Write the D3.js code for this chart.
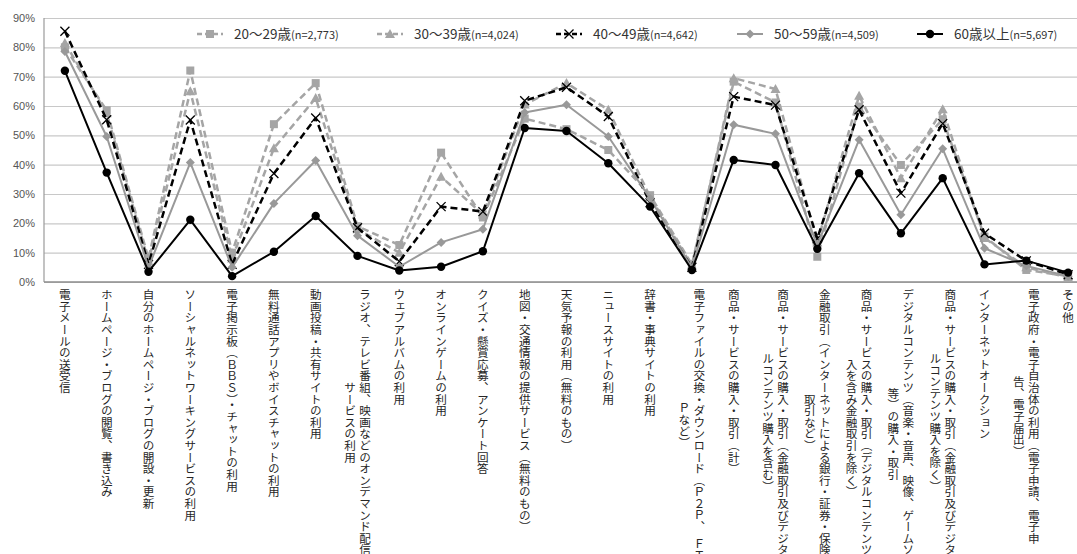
<!DOCTYPE html>
<html>
<head>
<meta charset="utf-8">
<script src="https://cdn.jsdelivr.net/npm/d3@7"></script>
<style>
  body { margin: 0; background: #fff; }
  svg { display: block; font-family: "Noto Sans CJK JP", "Noto Sans", sans-serif; }
  .vlabel { writing-mode: vertical-rl; }
</style>
</head>
<body>
<svg id="chart" width="1077" height="554"></svg>
<script>
// categories (each entry = lines of the wrapped label)
var categories = [
  ["電子メールの送受信"],
  ["ホームページ・ブログの閲覧、書き込み"],
  ["自分のホームページ・ブログの開設・更新"],
  ["ソーシャルネットワーキングサービスの利用"],
  ["電子掲示板（ＢＢＳ）・チャットの利用"],
  ["無料通話アプリやボイスチャットの利用"],
  ["動画投稿・共有サイトの利用"],
  ["ラジオ、テレビ番組、映画などのオンデマンド配信", "サービスの利用"],
  ["ウェブアルバムの利用"],
  ["オンラインゲームの利用"],
  ["クイズ・懸賞応募、アンケート回答"],
  ["地図・交通情報の提供サービス（無料のもの）"],
  ["天気予報の利用（無料のもの）"],
  ["ニュースサイトの利用"],
  ["辞書・事典サイトの利用"],
  ["電子ファイルの交換・ダウンロード（Ｐ２Ｐ、　ＦＴ", "Ｐなど）"],
  ["商品・サービスの購入・取引（計）"],
  ["商品・サービスの購入・取引（金融取引及びデジタ", "ルコンテンツ購入を含む）"],
  ["金融取引（インターネットによる銀行・証券・保険", "取引など）"],
  ["商品・サービスの購入・取引（デジタルコンテンツ購", "入を含み金融取引を除く）"],
  ["デジタルコンテンツ（音楽・音声、映像、ゲームソフト", "等）の購入・取引"],
  ["商品・サービスの購入・取引（金融取引及びデジタ", "ルコンテンツ購入を除く）"],
  ["インターネットオークション"],
  ["電子政府・電子自治体の利用（電子申請、電子申", "告、電子届出）"],
  ["その他"]
];

var seriesNames = ["20～29歳", "30～39歳", "40～49歳", "50～59歳", "60歳以上"];
var seriesN = ["(n=2,773)", "(n=4,024)", "(n=4,642)", "(n=4,509)", "(n=5,697)"];

var age20s = [80.0, 58.5, 8.0, 72.1, 10.0, 53.8, 67.8, 19.0, 12.6, 44.1, 22.0, 55.7, 52.1, 45.0, 29.6, 6.0,
              68.3, 61.2, 8.6, 59.8, 39.9, 55.5, 15.5, 4.1, 2.0];
var age30s = [81.5, 57.5, 7.0, 65.0, 8.0, 45.6, 62.7, 18.0, 10.0, 35.9, 23.0, 60.5, 67.8, 58.7, 29.0, 5.5,
              69.5, 65.8, 13.5, 63.5, 35.4, 58.9, 15.0, 5.0, 1.5];
var age40s = [85.5, 55.3, 6.0, 55.2, 6.0, 37.0, 55.9, 18.5, 7.0, 25.7, 24.0, 61.8, 66.4, 56.4, 27.0, 5.0,
              63.2, 60.3, 14.8, 58.7, 30.3, 54.0, 16.6, 7.2, 2.5];
var age50s = [78.6, 49.6, 5.0, 40.7, 5.0, 26.8, 41.4, 15.8, 5.2, 13.5, 18.0, 57.8, 60.4, 49.6, 28.5, 4.8,
              53.6, 50.5, 12.5, 48.5, 22.9, 45.4, 11.5, 5.5, 2.0];
var age60s = [72.0, 37.3, 3.5, 21.2, 2.0, 10.3, 22.5, 8.9, 3.9, 5.2, 10.5, 52.5, 51.5, 40.5, 25.7, 4.1,
              41.6, 39.9, 11.3, 37.1, 16.6, 35.4, 6.0, 7.3, 3.2];

var yTicks = [0, 10, 20, 30, 40, 50, 60, 70, 80, 90];

var seriesData = [age20s, age30s, age40s, age50s, age60s];

// styles per series
var styles = [
  { color: "#a5a5a5", dash: "7,4", width: 2.5, marker: "square" },
  { color: "#a5a5a5", dash: "7,4", width: 2.5, marker: "triangle" },
  { color: "#000000", dash: "7,4", width: 2.5, marker: "cross" },
  { color: "#999999", dash: null,  width: 2,   marker: "diamond" },
  { color: "#000000", dash: null,  width: 2,   marker: "circle" }
];
var legendX = [197, 377, 556, 737, 917];

var svg = d3.select("#chart");
var margin = { top: 18, left: 44 };
var plotW = 1045, plotH = 264;

var xScale = d3.scaleBand()
  .domain(d3.range(categories.length))
  .range([margin.left, margin.left + plotW]);

var yScale = d3.scaleLinear()
  .domain([0, 90])
  .range([margin.top + plotH, margin.top]);

// gridlines + y axis
var yAxis = d3.axisLeft(yScale)
  .tickValues(yTicks)
  .tickFormat(function(d) { return d + "%"; })
  .tickSize(-plotW)
  .tickPadding(9);

var gy = svg.append("g")
  .attr("transform", "translate(" + margin.left + ",0)")
  .call(yAxis);
gy.select(".domain").remove();
gy.selectAll(".tick line").attr("stroke", "#c8c8c8").attr("stroke-width", 1.2);
gy.selectAll(".tick text")
  .attr("fill", "#555")
  .style("font-size", "11px")
  .style("font-family", "'Liberation Sans', Arial, sans-serif");

// left and bottom axis lines
svg.append("line")
  .attr("x1", margin.left).attr("x2", margin.left)
  .attr("y1", yScale(90)).attr("y2", yScale(0))
  .attr("stroke", "#9a9a9a").attr("stroke-width", 1.2);
svg.append("line")
  .attr("x1", margin.left).attr("x2", margin.left + plotW)
  .attr("y1", yScale(0)).attr("y2", yScale(0))
  .attr("stroke", "#8c8c8c").attr("stroke-width", 1.4);

// x labels (vertical text)
var cx = function(i) { return xScale(i) + xScale.bandwidth() / 2; };
var labelTop = yScale(0) + 7;
var colGap = 15;

var labelG = svg.append("g");
categories.forEach(function(lines, i) {
  var n = lines.length;
  var mid = labelTop;
  lines.forEach(function(line, k) {
    var x = cx(i) + (n - 1) * colGap / 2 - k * colGap;
    var t = labelG.append("text")
      .attr("class", "vlabel")
      .attr("x", x)
      .attr("y", labelTop)
      .attr("fill", "#262626")
      .style("font-size", "11.6px")
      .text(line);
    if (k === 0) {
      mid = labelTop + t.node().getComputedTextLength() / 2;
    } else {
      t.attr("y", mid).attr("text-anchor", "middle");
    }
  });
});

// marker drawing
function drawMarker(g, type, x, y, st) {
  if (type === "square") {
    g.append("rect").attr("x", x - 4).attr("y", y - 4).attr("width", 8).attr("height", 8)
      .attr("fill", st.color);
  } else if (type === "triangle") {
    g.append("path").attr("d", "M" + x + "," + (y - 5) + "L" + (x + 5) + "," + (y + 4) + "L" + (x - 5) + "," + (y + 4) + "Z")
      .attr("fill", st.color);
  } else if (type === "cross") {
    g.append("path").attr("d", "M" + (x - 4.5) + "," + (y - 4.5) + "L" + (x + 4.5) + "," + (y + 4.5) +
      "M" + (x + 4.5) + "," + (y - 4.5) + "L" + (x - 4.5) + "," + (y + 4.5))
      .attr("stroke", st.color).attr("stroke-width", 1.3).attr("fill", "none");
  } else if (type === "diamond") {
    g.append("path").attr("d", "M" + x + "," + (y - 4.5) + "L" + (x + 4.5) + "," + y + "L" + x + "," + (y + 4.5) + "L" + (x - 4.5) + "," + y + "Z")
      .attr("fill", st.color);
  } else if (type === "circle") {
    g.append("circle").attr("cx", x).attr("cy", y).attr("r", 4.2).attr("fill", st.color);
  }
}

var line = d3.line()
  .x(function(d, i) { return cx(i); })
  .y(function(d) { return yScale(d); });

seriesData.forEach(function(vals, s) {
  var st = styles[s];
  var g = svg.append("g");
  g.append("path")
    .datum(vals)
    .attr("d", line)
    .attr("fill", "none")
    .attr("stroke", st.color)
    .attr("stroke-width", st.width)
    .attr("stroke-dasharray", st.dash)
    .attr("stroke-linejoin", "round");
  vals.forEach(function(v, i) {
    drawMarker(g, st.marker, cx(i), yScale(v), st);
  });
});

// legend
var legY = 34;
var lg = svg.append("g");
seriesNames.forEach(function(name, s) {
  var st = styles[s];
  var x0 = legendX[s];
  lg.append("line")
    .attr("x1", x0).attr("x2", x0 + 26)
    .attr("y1", legY).attr("y2", legY)
    .attr("stroke", st.color).attr("stroke-width", st.width)
    .attr("stroke-dasharray", st.dash ? "5,3" : null);
  drawMarker(lg, st.marker, x0 + 13, legY, st);
  var t = lg.append("text")
    .attr("x", x0 + 37).attr("y", legY + 5)
    .attr("fill", "#333");
  t.append("tspan").style("font-size", "13.5px").text(name);
  t.append("tspan").style("font-size", "11px").text(seriesN[s]);
});
</script>
</body>
</html>
